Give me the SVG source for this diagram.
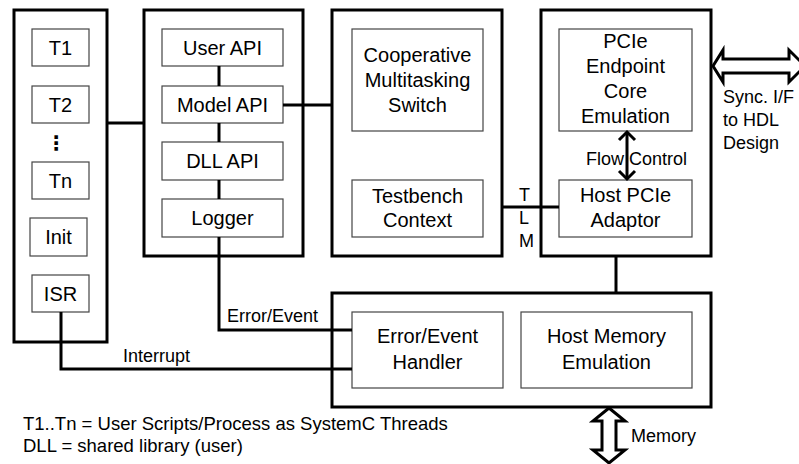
<svg xmlns="http://www.w3.org/2000/svg" width="799" height="464" viewBox="0 0 799 464">
<style>
.panel{fill:#fff;stroke:#000;stroke-width:3}
.box{fill:#fff;stroke:#444;stroke-width:1.2}
.t{font-family:"Liberation Sans",Arial,sans-serif;font-size:20px;fill:#000;text-anchor:middle}
.l{font-family:"Liberation Sans",Arial,sans-serif;font-size:18px;fill:#000}
.c{fill:none;stroke:#000;stroke-width:3}
.big{fill:#fff;stroke:#000;stroke-width:3;stroke-linejoin:miter}
</style>
<rect width="799" height="464" fill="#fff"/>
<g id="threads">
<rect class="panel" x="14" y="10" width="93" height="332"/>
<g id="T1"><rect class="box" x="32" y="29" width="57" height="37"/><text class="t" x="60.5" y="55">T1</text></g>
<g id="T2"><rect class="box" x="32" y="86" width="57" height="37"/><text class="t" x="60.5" y="112">T2</text></g>
<text x="56" y="150" style="font-family:'DejaVu Sans',sans-serif;font-size:20px;font-weight:bold;text-anchor:middle">⋮</text>
<g id="Tn"><rect class="box" x="32" y="162" width="57" height="37"/><text class="t" x="60.5" y="188">Tn</text></g>
<g id="Init"><rect class="box" x="30" y="218" width="57" height="38"/><text class="t" x="58.5" y="244">Init</text></g>
<g id="ISR"><rect class="box" x="32" y="275" width="57" height="37"/><text class="t" x="60.5" y="301">ISR</text></g>
</g>
<g id="apis">
<rect class="panel" x="144" y="10" width="159" height="246"/>
<g id="userapi"><rect class="box" x="162" y="29" width="121" height="37"/><text class="t" x="222.5" y="55">User API</text></g>
<g id="modelapi"><rect class="box" x="162" y="86" width="121" height="37"/><text class="t" x="222.5" y="112">Model API</text></g>
<g id="dllapi"><rect class="box" x="162" y="142" width="121" height="38"/><text class="t" x="222.5" y="168">DLL API</text></g>
<g id="logger"><rect class="box" x="162" y="199" width="121" height="38"/><text class="t" x="222.5" y="225">Logger</text></g>
</g>
<g id="switchpanel">
<rect class="panel" x="332" y="10" width="170" height="246"/>
<g id="coop"><rect class="box" x="352" y="29" width="131" height="102"/><text class="t" x="417.5" y="62">Cooperative</text><text class="t" x="417.5" y="87">Multitasking</text><text class="t" x="417.5" y="112">Switch</text></g>
<g id="tbctx"><rect class="box" x="352" y="180" width="131" height="57"/><text class="t" x="417.5" y="203">Testbench</text><text class="t" x="417.5" y="227">Context</text></g>
</g>
<g id="pciepanel">
<rect class="panel" x="541" y="10" width="170" height="246"/>
<g id="endpoint"><rect class="box" x="559" y="29" width="133" height="102"/><text class="t" x="625.5" y="48">PCIe</text><text class="t" x="625.5" y="73">Endpoint</text><text class="t" x="625.5" y="98">Core</text><text class="t" x="625.5" y="123">Emulation</text></g>
<g id="adaptor"><rect class="box" x="559" y="180" width="133" height="57"/><text class="t" x="625.5" y="202">Host PCIe</text><text class="t" x="625.5" y="227">Adaptor</text></g>
</g>
<g id="bottompanel">
<rect class="panel" x="332" y="293" width="379" height="114"/>
<g id="handler"><rect class="box" x="352" y="312" width="151" height="76"/><text class="t" x="427.5" y="343">Error/Event</text><text class="t" x="427.5" y="369">Handler</text></g>
<g id="hostmem"><rect class="box" x="521" y="312" width="171" height="76"/><text class="t" x="606.5" y="343">Host Memory</text><text class="t" x="606.5" y="369">Emulation</text></g>
</g>
<g id="connectors">
<line class="c" x1="107" y1="123" x2="144" y2="123"/>
<line class="c" x1="283" y1="105" x2="332" y2="105"/>
<line class="c" x1="219" y1="66" x2="219" y2="86"/>
<line class="c" x1="219" y1="123" x2="219" y2="142"/>
<line class="c" x1="219" y1="180" x2="219" y2="199"/>
<line class="c" x1="502" y1="207" x2="559" y2="207"/>
<line class="c" x1="616" y1="256" x2="616" y2="293"/>
<polyline class="c" points="219,237 219,330 352,330"/>
<polyline class="c" points="61,312 61,369 352,369"/>
<line class="c" x1="627" y1="132" x2="627" y2="179"/>
<polyline class="c" points="619,140 627,132 635,140"/>
<polyline class="c" points="619,171 627,179 635,171"/>
<polygon class="big" points="713,66 723,50 723,59 789,59 789,50 805,66 789,82 789,73 723,73 723,82"/>
<polygon class="big" points="609,408 625,421 616,421 616,450 625,450 609,463 593,450 602,450 602,421 593,421"/>
</g>
<g id="labels">
<text class="l" x="586" y="165">Flow Control</text>
<text class="l" x="723" y="103">Sync. I/F</text>
<text class="l" x="723" y="126">to HDL</text>
<text class="l" x="723" y="149">Design</text>
<text class="l" x="519" y="201">T</text>
<text class="l" x="519" y="224">L</text>
<text class="l" x="519" y="247">M</text>
<text class="l" x="227" y="322">Error/Event</text>
<text class="l" x="123" y="362">Interrupt</text>
<text class="l" x="631" y="442">Memory</text>
<text class="l" x="23" y="430" style="font-size:18.5px">T1..Tn = User Scripts/Process as SystemC Threads</text>
<text class="l" x="23" y="452" style="font-size:18.5px">DLL = shared library (user)</text>
</g>
</svg>
